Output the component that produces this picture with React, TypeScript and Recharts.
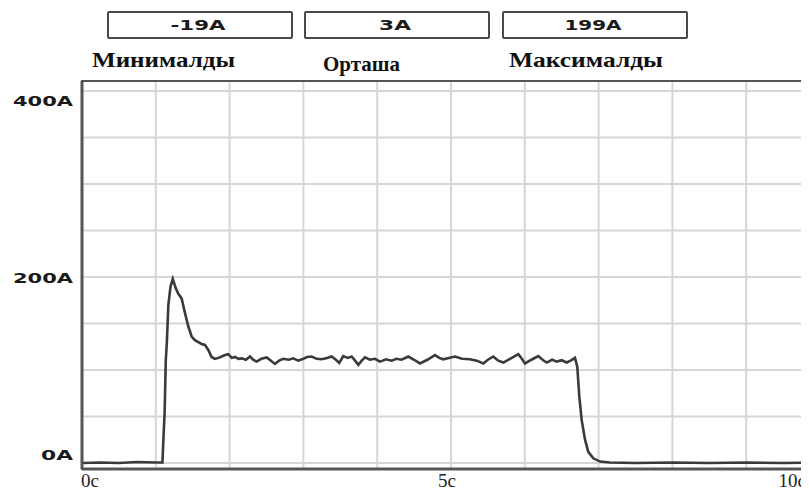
import React from 'react';
import { LineChart, Line, XAxis, YAxis, CartesianGrid, ReferenceArea } from 'recharts';

const times = [
  0, 0.25, 0.5, 0.75, 1.0, 1.09, 1.1, 1.12, 1.135, 1.15, 1.17, 1.2, 1.23, 1.27, 1.305, 1.35, 1.396, 1.44, 1.486, 1.53,
  1.576, 1.62, 1.667, 1.711, 1.757, 1.8, 1.85, 1.893, 1.94, 1.982, 2.03, 2.073, 2.12, 2.164, 2.22, 2.276, 2.32, 2.367,
  2.43, 2.503, 2.56, 2.615, 2.67, 2.728, 2.8, 2.863, 2.93, 2.999, 3.05, 3.112, 3.18, 3.248, 3.32, 3.383, 3.44, 3.486,
  3.54, 3.6, 3.654, 3.7, 3.744, 3.79, 3.835, 3.9, 3.97, 4.038, 4.12, 4.196, 4.26, 4.33, 4.421, 4.5, 4.58, 4.68, 4.783,
  4.84, 4.896, 4.97, 5.054, 5.15, 5.257, 5.35, 5.438, 5.5, 5.573, 5.64, 5.709, 5.8, 5.912, 5.96, 6.003, 6.09, 6.183,
  6.24, 6.297, 6.37, 6.432, 6.5, 6.568, 6.62, 6.68, 6.711, 6.739, 6.771, 6.816, 6.86, 6.928, 7.019, 7.154, 7.5, 8,
  8.5, 9, 9.5, 10,
];

const currents = [
  0, 0.5, 0, 1, 0.5, 0.5, 20, 55, 110, 130, 170, 190, 198, 188, 182, 177, 161, 147, 136, 132,
  130, 128, 127, 121.5, 114, 112, 113, 114.5, 116, 117, 113, 114, 112, 112.5, 111, 114.5, 111, 109,
  112, 113.5, 110, 106.5, 110, 112, 111, 112.5, 110, 112, 114, 114.5, 112, 111.5, 113, 114.5, 111, 107.5,
  115, 113, 114.5, 110, 105.5, 110, 113.5, 111, 112, 109, 111.5, 110, 112, 111, 114.5, 111, 107, 111, 116,
  113, 111.5, 113, 114.5, 112, 111.5, 110, 107, 111, 114.5, 110, 108, 112, 117, 112, 107, 111, 115,
  111, 108, 111, 109, 110.5, 108, 110, 113, 103.5, 71, 46, 25, 12, 5, 1.5, 0.5, 0, 0.5,
  0, 0.5, 0, 0.5,
];

const xGridTicks = [0, 1, 2, 3, 4, 5, 6, 7, 8, 9, 10];
const xLabelValues = [0, 5, 10];
const xLabelTexts = ['0c', '5c', '10c'];

const yGridTicks = [0, 50, 100, 150, 200, 250, 300, 350, 400];
const yLabelValues = [0, 200, 400];
const yLabelTexts = ['0A', '200A', '400A'];

const headerValues = ['-19A', '3A', '199A'];
const headerNames = ['Минималды', 'Орташа', 'Максималды'];

const data = times.map((t, i) => ({ t, current: currents[i] }));

const XTick = (props: any) => {
  const { x, y, payload } = props;
  const idx = xLabelValues.indexOf(payload.value);
  if (idx < 0) return null;
  const anchor = idx === 0 ? 'start' : idx === 1 ? 'middle' : 'end';
  const dx = idx === 0 ? -1 : idx === 1 ? -4 : -14;
  return (
    <text x={x + dx} y={y + 18} textAnchor={anchor} fontFamily="'Liberation Serif', serif" fontSize={19} fill="#222">
      {xLabelTexts[idx]}
    </text>
  );
};

const yLabelShift = [-8, 1, 10];
const yLabelWidth = [32, 60, 60];

const YTick = (props: any) => {
  const { x, y, payload } = props;
  const idx = yLabelValues.indexOf(payload.value);
  if (idx < 0) return null;
  return (
    <text
      x={x - 9}
      y={y + yLabelShift[idx] + 5}
      textAnchor="end"
      fontFamily="'DejaVu Sans', sans-serif"
      fontWeight="bold"
      fontSize={14}
      fill="#1a1a1a"
      textLength={yLabelWidth[idx]}
      lengthAdjust="spacingAndGlyphs"
    >
      {yLabelTexts[idx]}
    </text>
  );
};

const boxX = [108, 305, 503];
const boxW = 184;
const valueWidths = [55, 32, 57];
const nameX = [92, 323, 509];
const nameW = [143, 77, 154];
const nameY = [67, 71, 67];

export default function App() {
  return (
    <div style={{ position: 'relative', width: 809, height: 495, margin: -8, overflow: 'hidden', background: '#fff' }}>
      <LineChart width={840} height={495} data={data} margin={{ top: 81, right: 20, bottom: 0, left: 0 }}>
        <CartesianGrid stroke="#d6d6d6" strokeWidth={2} horizontalValues={yGridTicks} verticalValues={xGridTicks} />
        <XAxis
          dataKey="t"
          type="number"
          domain={[0, 10]}
          ticks={xGridTicks}
          interval={0}
          height={26}
          tickSize={0}
          tickMargin={0}
          tick={<XTick />}
          axisLine={{ stroke: '#555', strokeWidth: 3 }}
        />
        <YAxis
          type="number"
          domain={[-6.5, 410.8]}
          ticks={yGridTicks}
          interval={0}
          width={82}
          tickSize={0}
          tickMargin={0}
          tick={<YTick />}
          axisLine={{ stroke: '#555', strokeWidth: 3 }}
          allowDataOverflow
        />
        <ReferenceArea x1={0} x2={10} y1={-6.5} y2={410.8} fill="none" stroke="#555" strokeWidth={2} ifOverflow="visible" />
        <Line
          type="linear"
          dataKey="current"
          stroke="#3a3a3a"
          strokeWidth={2.6}
          dot={false}
          isAnimationActive={false}
        />
      </LineChart>
      <svg width={809} height={80} style={{ position: 'absolute', left: 0, top: 0 }}>
        {headerValues.map((v, i) => (
          <g key={v}>
            <rect x={boxX[i]} y={12} width={boxW} height={26} fill="#fff" stroke="#4a4a4a" strokeWidth={2} rx={1} />
            <text
              x={boxX[i] + boxW / 2 - 2}
              y={30}
              textAnchor="middle"
              fontFamily="'DejaVu Sans', sans-serif"
              fontWeight="bold"
              fontSize={14}
              fill="#1a1a1a"
              textLength={valueWidths[i]}
              lengthAdjust="spacingAndGlyphs"
            >
              {v}
            </text>
          </g>
        ))}
        {headerNames.map((n, i) => (
          <text
            key={n}
            x={nameX[i]}
            y={nameY[i]}
            fontFamily="'Liberation Serif', serif"
            fontWeight="bold"
            fontSize={21}
            fill="#111"
            textLength={nameW[i]}
            lengthAdjust="spacingAndGlyphs"
          >
            {n}
          </text>
        ))}
      </svg>
    </div>
  );
}
